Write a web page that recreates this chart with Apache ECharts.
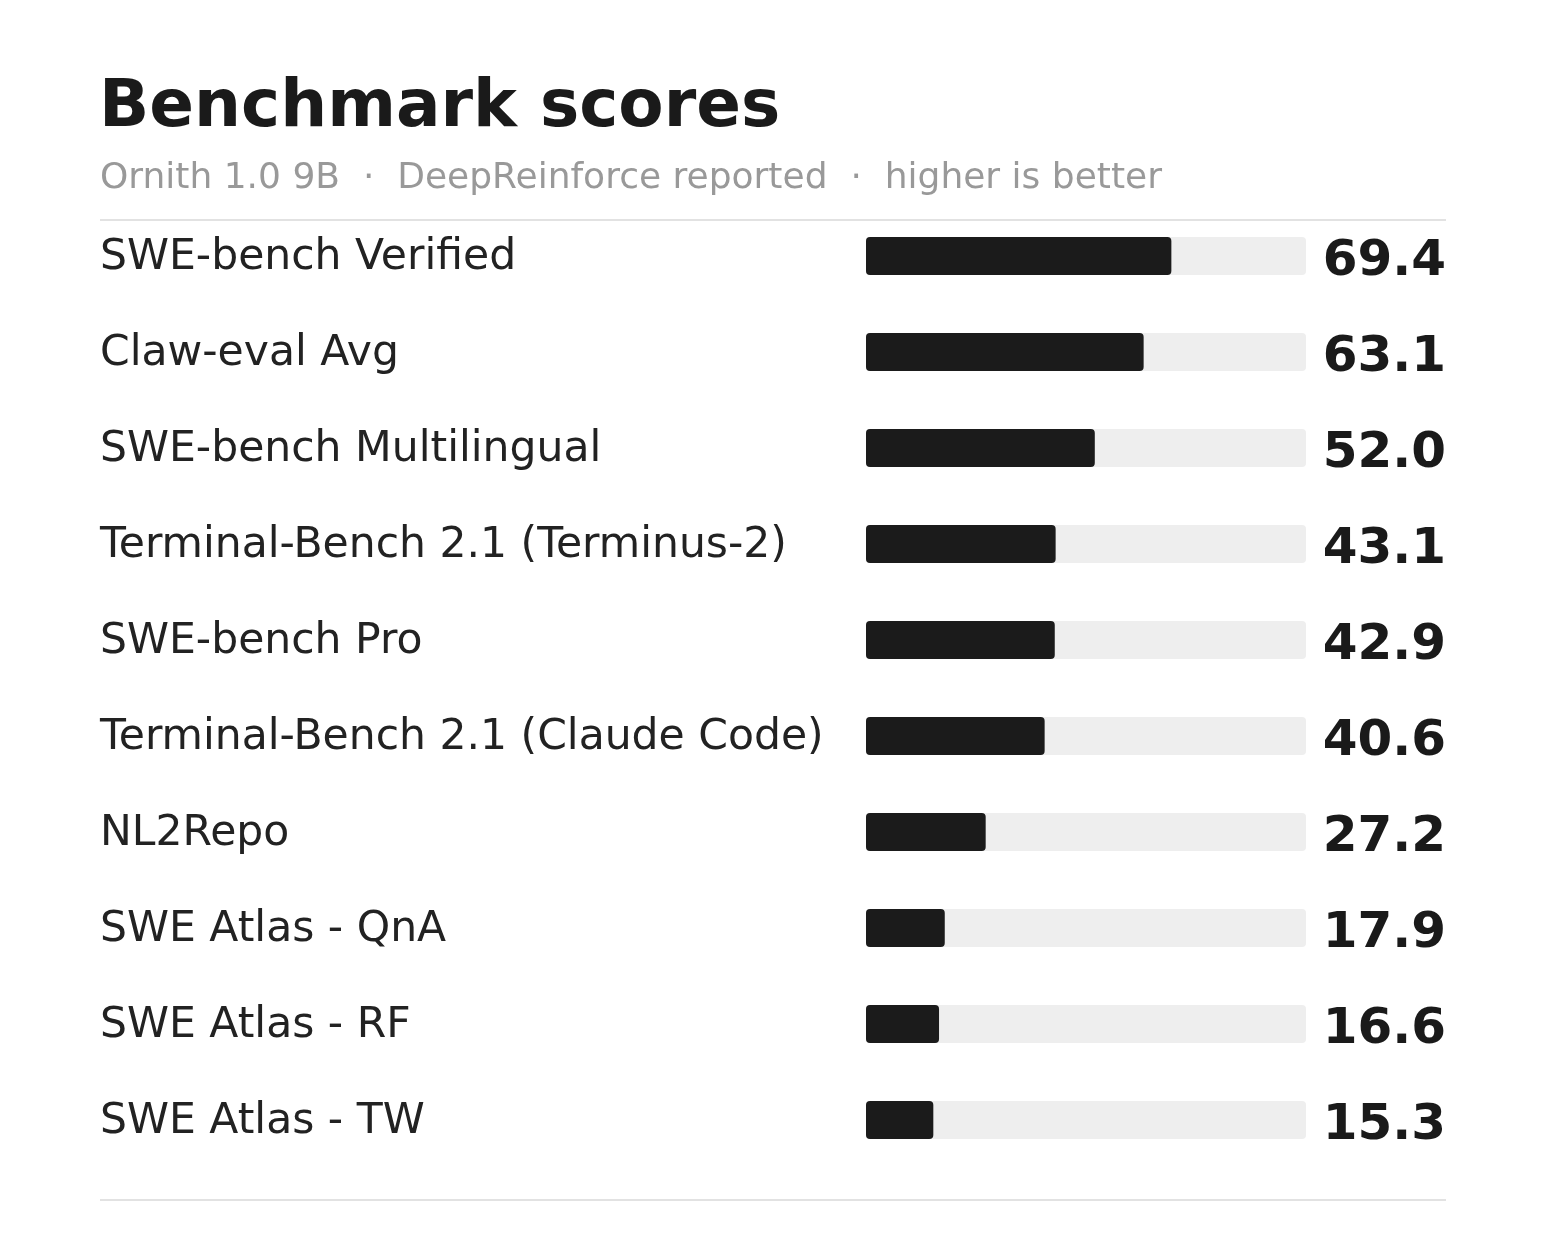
<!DOCTYPE html>
<html>
<head>
<meta charset="utf-8">
<script src="https://cdn.jsdelivr.net/npm/echarts@6/dist/echarts.min.js"></script>
<style>
html,body{margin:0;padding:0;background:#fff;}
#chart{width:1546px;height:1240px;}
</style>
</head>
<body>
<div id="chart"></div>
<script>
const categories = [
  "SWE-bench Verified",
  "Claw-eval Avg",
  "SWE-bench Multilingual",
  "Terminal-Bench 2.1 (Terminus-2)",
  "SWE-bench Pro",
  "Terminal-Bench 2.1 (Claude Code)",
  "NL2Repo",
  "SWE Atlas - QnA",
  "SWE Atlas - RF",
  "SWE Atlas - TW"
];
const scores = [69.4, 63.1, 52.0, 43.1, 42.9, 40.6, 27.2, 17.9, 16.6, 15.3];
const titleText = "Benchmark scores";
const subtitleText = "Ornith 1.0 9B  \u00B7  DeepReinforce reported  \u00B7  higher is better";

const FONT = "DejaVu Sans";
const chart = echarts.init(document.getElementById('chart'), null, {renderer: 'canvas'});
chart.setOption({
  backgroundColor: '#ffffff',
  animation: false,
  title: [
    {
      text: titleText,
      left: 94, top: 71,
      textStyle: {fontFamily: FONT, fontSize: 66, fontWeight: 'bold', color: '#1a1a1a'}
    },
    {
      text: subtitleText,
      left: 95, top: 156,
      textStyle: {fontFamily: FONT, fontSize: 36, fontWeight: 'normal', color: '#999999'}
    }
  ],
  grid: {left: 866, width: 440, top: 208, height: 960, containLabel: false},
  xAxis: {
    type: 'value', min: 0, max: 100,
    show: false
  },
  yAxis: [
    {
      type: 'category', data: categories, inverse: true,
      axisLine: {show: false}, axisTick: {show: false}, splitLine: {show: false},
      axisLabel: {
        margin: 766, align: 'left', verticalAlign: 'middle',
        formatter: function (v) { return '{t|' + v + '}'; },
        rich: {
          t: {fontFamily: FONT, fontSize: 42.5, color: '#222222', padding: [3, 0, 0, 0]}
        }
      }
    },
    {
      type: 'category', data: categories, inverse: true, position: 'right',
      axisLine: {show: false}, axisTick: {show: false}, splitLine: {show: false},
      axisLabel: {
        margin: 140, align: 'right', verticalAlign: 'middle',
        formatter: function (v, i) { return '{n|' + scores[i].toFixed(1) + '}'; },
        rich: {
          n: {fontFamily: FONT, fontSize: 50, fontWeight: 'bold', color: '#1a1a1a', padding: [13, 0, 0, 0]}
        }
      }
    }
  ],
  series: [{
    type: 'bar',
    data: scores,
    barWidth: 38,
    showBackground: true,
    backgroundStyle: {color: '#eeeeee', borderRadius: 4},
    itemStyle: {color: '#1b1b1b', borderRadius: 4},
    silent: true
  }],
  graphic: [
    {type: 'line', shape: {x1: 100, y1: 220, x2: 1446, y2: 220}, style: {stroke: '#e2e2e2', lineWidth: 2}},
    {type: 'line', shape: {x1: 100, y1: 1200, x2: 1446, y2: 1200}, style: {stroke: '#e2e2e2', lineWidth: 2}}
  ]
});
</script>
</body>
</html>
